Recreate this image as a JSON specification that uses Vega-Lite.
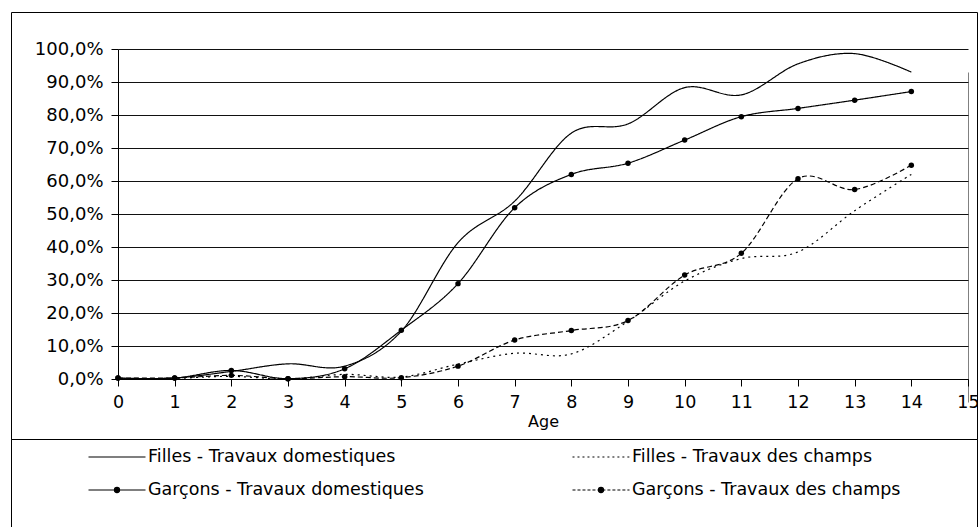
{
  "$schema": "https://vega.github.io/schema/vega-lite/v6.json",
  "padding": {"left": 10, "top": 11, "right": 0, "bottom": 0},
  "autosize": {"type": "pad"},
  "background": "white",
  "spacing": 0,
  "bounds": "flush",
  "config": {
    "font": "DejaVu Sans",
    "view": {"stroke": "black", "strokeWidth": 1},
    "axis": {"labelColor": "black", "domainColor": "black", "tickColor": "black", "titleColor": "black", "labelFont": "DejaVu Sans", "titleFont": "DejaVu Sans"}
  },
  "datasets": {
    "series": [
      {"age": 0, "series": "Filles - Travaux domestiques", "value": 0.1},
      {"age": 1, "series": "Filles - Travaux domestiques", "value": 0.3},
      {"age": 2, "series": "Filles - Travaux domestiques", "value": 2.3},
      {"age": 3, "series": "Filles - Travaux domestiques", "value": 4.6},
      {"age": 4, "series": "Filles - Travaux domestiques", "value": 3.9},
      {"age": 5, "series": "Filles - Travaux domestiques", "value": 14.5},
      {"age": 6, "series": "Filles - Travaux domestiques", "value": 41.3},
      {"age": 7, "series": "Filles - Travaux domestiques", "value": 53.9},
      {"age": 8, "series": "Filles - Travaux domestiques", "value": 74.5},
      {"age": 9, "series": "Filles - Travaux domestiques", "value": 77.3},
      {"age": 10, "series": "Filles - Travaux domestiques", "value": 88.3},
      {"age": 11, "series": "Filles - Travaux domestiques", "value": 86.1},
      {"age": 12, "series": "Filles - Travaux domestiques", "value": 95.5},
      {"age": 13, "series": "Filles - Travaux domestiques", "value": 98.6},
      {"age": 14, "series": "Filles - Travaux domestiques", "value": 93.0},
      {"age": 0, "series": "Filles - Travaux des champs", "value": 0.0},
      {"age": 1, "series": "Filles - Travaux des champs", "value": 0.2},
      {"age": 2, "series": "Filles - Travaux des champs", "value": 0.8},
      {"age": 3, "series": "Filles - Travaux des champs", "value": 0.0},
      {"age": 4, "series": "Filles - Travaux des champs", "value": 1.4},
      {"age": 5, "series": "Filles - Travaux des champs", "value": 0.6},
      {"age": 6, "series": "Filles - Travaux des champs", "value": 4.5},
      {"age": 7, "series": "Filles - Travaux des champs", "value": 7.8},
      {"age": 8, "series": "Filles - Travaux des champs", "value": 7.6},
      {"age": 9, "series": "Filles - Travaux des champs", "value": 17.5},
      {"age": 10, "series": "Filles - Travaux des champs", "value": 29.7},
      {"age": 11, "series": "Filles - Travaux des champs", "value": 36.5},
      {"age": 12, "series": "Filles - Travaux des champs", "value": 38.5},
      {"age": 13, "series": "Filles - Travaux des champs", "value": 51.0},
      {"age": 14, "series": "Filles - Travaux des champs", "value": 62.0},
      {"age": 0, "series": "Garçons - Travaux domestiques", "value": 0.3},
      {"age": 1, "series": "Garçons - Travaux domestiques", "value": 0.3},
      {"age": 2, "series": "Garçons - Travaux domestiques", "value": 2.6},
      {"age": 3, "series": "Garçons - Travaux domestiques", "value": 0.1},
      {"age": 4, "series": "Garçons - Travaux domestiques", "value": 3.1},
      {"age": 5, "series": "Garçons - Travaux domestiques", "value": 14.8},
      {"age": 6, "series": "Garçons - Travaux domestiques", "value": 28.9},
      {"age": 7, "series": "Garçons - Travaux domestiques", "value": 51.9},
      {"age": 8, "series": "Garçons - Travaux domestiques", "value": 62.0},
      {"age": 9, "series": "Garçons - Travaux domestiques", "value": 65.4},
      {"age": 10, "series": "Garçons - Travaux domestiques", "value": 72.4},
      {"age": 11, "series": "Garçons - Travaux domestiques", "value": 79.5},
      {"age": 12, "series": "Garçons - Travaux domestiques", "value": 82.0},
      {"age": 13, "series": "Garçons - Travaux domestiques", "value": 84.5},
      {"age": 14, "series": "Garçons - Travaux domestiques", "value": 87.1},
      {"age": 0, "series": "Garçons - Travaux des champs", "value": 0.3},
      {"age": 1, "series": "Garçons - Travaux des champs", "value": 0.3},
      {"age": 2, "series": "Garçons - Travaux des champs", "value": 1.1},
      {"age": 3, "series": "Garçons - Travaux des champs", "value": 0.1},
      {"age": 4, "series": "Garçons - Travaux des champs", "value": 0.7},
      {"age": 5, "series": "Garçons - Travaux des champs", "value": 0.4},
      {"age": 6, "series": "Garçons - Travaux des champs", "value": 3.9},
      {"age": 7, "series": "Garçons - Travaux des champs", "value": 11.8},
      {"age": 8, "series": "Garçons - Travaux des champs", "value": 14.7},
      {"age": 9, "series": "Garçons - Travaux des champs", "value": 17.7},
      {"age": 10, "series": "Garçons - Travaux des champs", "value": 31.5},
      {"age": 11, "series": "Garçons - Travaux des champs", "value": 38.1},
      {"age": 12, "series": "Garçons - Travaux des champs", "value": 60.7},
      {"age": 13, "series": "Garçons - Travaux des champs", "value": 57.4},
      {"age": 14, "series": "Garçons - Travaux des champs", "value": 64.8}
    ],
    "legend": [
      {"label": "Filles - Travaux domestiques", "sex": "Filles", "work": "domestiques"},
      {"label": "Filles - Travaux des champs", "sex": "Filles", "work": "champs"},
      {"label": "Garçons - Travaux domestiques", "sex": "Garçons", "work": "domestiques"},
      {"label": "Garçons - Travaux des champs", "sex": "Garçons", "work": "champs"}
    ]
  },
  "vconcat": [
    {
      "width": 966,
      "height": 427,
      "data": {"name": "series"},
      "layer": [
        {
          "mark": {"type": "line", "interpolate": "cardinal", "strokeWidth": 1.2, "color": "black"},
          "encoding": {
            "x": {
              "field": "age", "type": "quantitative",
              "scale": {"domain": [0, 15], "range": [107, 957], "nice": false, "zero": false},
              "axis": {
                "values": [0, 1, 2, 3, 4, 5, 6, 7, 8, 9, 10, 11, 12, 13, 14, 15],
                "format": "d", "offset": -60, "title": "Age",
                "grid": true,
                "gridColor": {"condition": {"test": "datum.value == 15", "value": "#808080"}, "value": "transparent"},
                "tickSize": 7, "labelPadding": 7, "labelFontSize": 17.5, "labelFlush": false,
                "titleFontSize": 16, "titleFontWeight": "normal", "titlePadding": 3
              }
            },
            "y": {
              "field": "value", "type": "quantitative",
              "scale": {"domain": [0, 100], "range": [367, 37], "nice": false},
              "axis": {
                "values": [0, 10, 20, 30, 40, 50, 60, 70, 80, 90, 100],
                "offset": -107, "title": null, "grid": true, "gridColor": "#111111",
                "tickSize": 7, "labelPadding": 8, "labelFontSize": 18, "labelFlush": false,
                "labelExpr": "replace(format(datum.value, '.1f'), '.', ',') + '%'"
              }
            },
            "strokeDash": {
              "field": "series", "type": "nominal",
              "scale": {
                "domain": ["Filles - Travaux domestiques", "Filles - Travaux des champs", "Garçons - Travaux domestiques", "Garçons - Travaux des champs"],
                "range": [[1, 0], [2, 4], [1, 0], [5, 3]]
              },
              "legend": null
            }
          }
        },
        {
          "transform": [{"filter": "indexof(datum.series, 'Garçons') == 0"}],
          "mark": {"type": "point", "filled": true, "size": 30, "color": "black", "opacity": 1},
          "encoding": {
            "x": {"field": "age", "type": "quantitative"},
            "y": {"field": "value", "type": "quantitative"}
          }
        }
      ]
    },
    {
      "width": 966,
      "height": 88,
      "data": {"name": "legend"},
      "layer": [
        {
          "mark": {"type": "point", "filled": true, "fill": "black", "stroke": "black", "strokeWidth": 1.2, "size": 3249, "opacity": 1},
          "encoding": {
            "x": {"field": "work", "type": "nominal", "scale": {"type": "point", "padding": 0, "domain": ["domestiques", "champs"], "range": [106, 590]}, "axis": null},
            "y": {"field": "sex", "type": "nominal", "scale": {"type": "point", "padding": 0, "domain": ["Filles", "Garçons"], "range": [18, 51]}, "axis": null},
            "shape": {
              "field": "label", "type": "nominal",
              "scale": {
                "domain": ["Filles - Travaux domestiques", "Filles - Travaux des champs", "Garçons - Travaux domestiques", "Garçons - Travaux des champs"],
                "range": [
                  "M-1,0L1,0",
                  "M-1,0H-0.93M-0.825,0H-0.755M-0.65,0H-0.58M-0.475,0H-0.405M-0.3,0H-0.23M-0.125,0H-0.055M0.05,0H0.12M0.225,0H0.295M0.4,0H0.47M0.575,0H0.645M0.75,0H0.82M0.925,0H0.995",
                  "M-1,0L1,0M0.09,0A0.09,0.09 0 1,1 -0.09,0A0.09,0.09 0 1,1 0.09,0Z",
                  "M-1,0H-0.895M-0.825,0H-0.72M-0.65,0H-0.545M-0.475,0H-0.37M-0.3,0H-0.195M-0.125,0H-0.02M0.05,0H0.155M0.225,0H0.33M0.4,0H0.505M0.575,0H0.68M0.75,0H0.855M0.925,0H1M0.09,0A0.09,0.09 0 1,1 -0.09,0A0.09,0.09 0 1,1 0.09,0Z"
                ]
              },
              "legend": null
            }
          }
        },
        {
          "mark": {"type": "text", "align": "left", "baseline": "middle", "dx": 31, "fontSize": 17.5, "color": "black"},
          "encoding": {
            "x": {"field": "work", "type": "nominal"},
            "y": {"field": "sex", "type": "nominal"},
            "text": {"field": "label", "type": "nominal"}
          }
        }
      ]
    }
  ]
}
